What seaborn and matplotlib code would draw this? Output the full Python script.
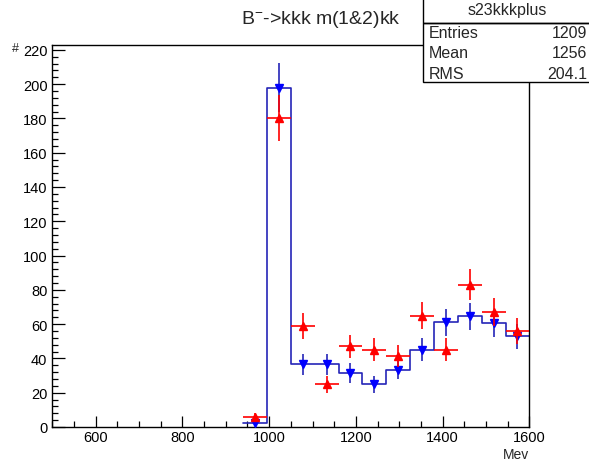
import matplotlib
matplotlib.use("Agg")
import matplotlib.pyplot as plt
from matplotlib.patches import Rectangle
from matplotlib.ticker import MultipleLocator
import numpy as np
import seaborn as sns

# histogram binning: 20 bins of 55 MeV from 500 to 1600, only the filled ones listed
bin_edges = [940, 995, 1050, 1105, 1160, 1215, 1270, 1325, 1380, 1435, 1490, 1545, 1600]
bin_centers = [967.5, 1022.5, 1077.5, 1132.5, 1187.5, 1242.5,
               1297.5, 1352.5, 1407.5, 1462.5, 1517.5, 1572.5]

# blue: histogram drawn with step line + down triangles
blue_counts = [2.5, 198, 36.5, 36.5, 31.5, 25, 33.5, 45, 61, 64.5, 60.5, 53]
# red: overlaid points with up triangles
red_counts = [6, 180, 59, 25, 47, 45, 41.5, 65, 45, 83, 67, 56]

stats_name = "s23kkkplus"
stats_labels = ["Entries", "Mean", "RMS"]
stats_values = ["1209", "1256", "204.1"]

title = r"B$^{-}$->kkk m(1&2)kk"
x_label = "Mev"

sns.set_theme(style="ticks")
plt.rcParams["font.family"] = ["Liberation Sans", "DejaVu Sans"]
plt.rcParams["mathtext.fontset"] = "custom"
plt.rcParams["mathtext.rm"] = "Liberation Sans"
plt.rcParams["mathtext.default"] = "regular"

fig = plt.figure(figsize=(5.89, 4.64), dpi=100)
ax = fig.add_axes([0.0888, 0.0776, 0.81, 0.8239])

blue_line = "#2525b8"
sns.histplot(x=bin_centers, weights=blue_counts, bins=bin_edges,
             element="step", fill=False, color=blue_line, linewidth=1.2, ax=ax)

half_width = (bin_edges[1] - bin_edges[0]) / 2
blue_err = np.sqrt(blue_counts)
red_err = np.sqrt(red_counts)

ax.errorbar(bin_centers, blue_counts, yerr=blue_err, fmt="v", color="#0000ff",
            ecolor=blue_line, elinewidth=1.2, markersize=6, capsize=0, zorder=3)
ax.errorbar(bin_centers, red_counts, xerr=half_width, yerr=red_err, fmt="^",
            color="#ff0000", ecolor="#ff0000", elinewidth=1.2, markersize=6,
            capsize=0, zorder=4)

ax.set_xlim(500, 1600)
ax.set_ylim(0, 223)
ax.xaxis.set_major_locator(MultipleLocator(200))
ax.xaxis.set_minor_locator(MultipleLocator(50))
ax.yaxis.set_major_locator(MultipleLocator(20))
ax.yaxis.set_minor_locator(MultipleLocator(4))
ax.tick_params(which="both", direction="in", top=False, right=False,
               labelsize=10.5, colors="black", width=0.9)
ax.tick_params(which="major", length=8)
ax.tick_params(which="minor", length=4)
ax.tick_params(axis="x", which="major", pad=2)
ax.tick_params(axis="y", which="major", length=9)
ax.set_xlabel("")
ax.set_ylabel("")
for s in ax.spines.values():
    s.set_visible(True)
    s.set_color("black")
    s.set_linewidth(1.0)

fig.text(0.899, 0.004, x_label, ha="right", va="bottom", fontsize=10)
fig.text(0.020, 0.894, "#", ha="left", va="center", fontsize=9)
fig.text(0.545, 0.958, title, ha="center", va="center", fontsize=14)

# ROOT-style statistics box in the top right corner
box = Rectangle((0.719, 0.821), 0.30, 0.185, transform=fig.transFigure,
                facecolor="white", edgecolor="black", linewidth=1.0, zorder=10)
fig.add_artist(box)
sep = Rectangle((0.719, 0.948), 0.30, 0.0, transform=fig.transFigure,
                facecolor="none", edgecolor="black", linewidth=1.0, zorder=11)
fig.add_artist(sep)
fig.text(0.862, 0.977, stats_name, ha="center", va="center", fontsize=11.5, zorder=12)
for i, (lab, val) in enumerate(zip(stats_labels, stats_values)):
    yy = 0.928 - i * 0.044
    fig.text(0.728, yy, lab, ha="left", va="center", fontsize=11.5, zorder=12)
    fig.text(0.997, yy, val, ha="right", va="center", fontsize=11.5, zorder=12)

fig.savefig("out.png", dpi=100)
